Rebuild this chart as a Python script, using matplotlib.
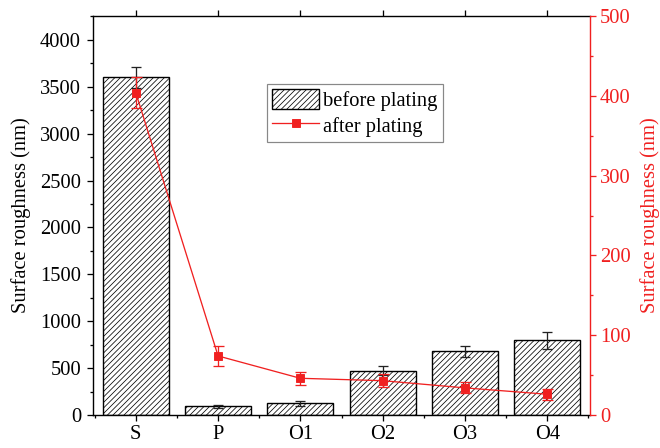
import matplotlib
matplotlib.use("Agg")
import matplotlib.pyplot as plt
from matplotlib.ticker import MultipleLocator, FixedLocator

categories = ["S", "P", "O1", "O2", "O3", "O4"]
before = [3600, 95, 125, 472, 678, 796]
before_err = [108, 16, 25, 46, 58, 88]
after = [404, 74, 46, 43, 34, 26]
after_err = [19, 13, 8, 8, 7, 7]

DPI = 66
px = 72.0 / DPI  # points per pixel

plt.rcParams['font.family'] = ['Liberation Serif', 'DejaVu Serif']
plt.rcParams['hatch.color'] = '#666666'
plt.rcParams['hatch.linewidth'] = 0.75 * px

fig = plt.figure(figsize=(660 / DPI, 448 / DPI), dpi=DPI)
ax = fig.add_axes([93 / 660, 1 - 415 / 448, (590 - 93) / 660, (415 - 16) / 448])
ax2 = ax.twinx()

x = list(range(len(categories)))
fs = 20.5 * px

ax.bar(x, before, width=0.8, color='white', edgecolor='black', linewidth=1.4 * px,
       hatch='////', label='before plating', zorder=2)
ax.errorbar(x, before, yerr=before_err, fmt='none', ecolor='#222222',
            elinewidth=1.3 * px, capsize=5 * px, capthick=1.3 * px, zorder=3)

ax.set_xlim(-0.52, 5.52)
ax.set_ylim(0, 4255)
ax.set_xticks(x)
ax.set_xticklabels(categories, fontsize=fs)
ax.xaxis.set_minor_locator(FixedLocator([i + 0.5 for i in range(-1, 6)]))
ax.yaxis.set_major_locator(MultipleLocator(500))
ax.yaxis.set_minor_locator(MultipleLocator(250))
ax.tick_params(axis='y', which='major', direction='out', length=6 * px, width=1.3 * px,
               labelsize=fs, pad=6 * px)
ax.tick_params(axis='y', which='minor', direction='out', length=3.5 * px, width=1.3 * px)
ax.tick_params(axis='x', which='major', direction='out', length=6 * px, width=1.3 * px,
               labelsize=fs, pad=4 * px, top=True)
ax.tick_params(axis='x', which='minor', direction='out', length=3.5 * px, width=1.3 * px)
ax.set_ylabel('Surface roughness (nm)', fontsize=fs, labelpad=9 * px)
for s in ['left', 'bottom', 'top']:
    ax.spines[s].set_linewidth(1.4 * px)
ax.spines['right'].set_visible(False)

red = '#f02020'
ax2.errorbar(x, after, yerr=after_err, fmt='none', ecolor=red,
             elinewidth=1.3 * px, capsize=5.5 * px, capthick=1.3 * px, zorder=4)
ax2.plot(x, after, color=red, linewidth=1.3 * px, marker='s', markersize=9 * px,
         markeredgecolor=red, markerfacecolor=red, label='after plating', zorder=5)
ax2.set_ylim(0, 500)
ax2.yaxis.set_major_locator(MultipleLocator(100))
ax2.yaxis.set_minor_locator(MultipleLocator(50))
ax2.tick_params(axis='y', which='major', direction='out', length=6 * px, width=1.3 * px,
                labelsize=fs, colors=red, pad=4 * px)
ax2.tick_params(axis='y', which='minor', direction='out', length=3.5 * px, width=1.3 * px,
                colors=red)
ax2.set_ylabel('Surface roughness (nm)', fontsize=fs, color=red, labelpad=9 * px)
ax2.spines['right'].set_color(red)
ax2.spines['right'].set_linewidth(1.4 * px)
for s in ['left', 'bottom', 'top']:
    ax2.spines[s].set_visible(False)

h1, l1 = ax.get_legend_handles_labels()
h2, l2 = ax2.get_legend_handles_labels()
leg = ax2.legend(h1 + h2, l1 + l2, loc='upper left', bbox_to_anchor=(0.35, 0.83),
                 fontsize=fs, frameon=True, fancybox=False, edgecolor='#888888',
                 framealpha=1, handlelength=2.3, handleheight=1.1,
                 borderpad=0.25, labelspacing=0.2, handletextpad=0.2, borderaxespad=0)
leg.get_frame().set_linewidth(1.2 * px)

fig.savefig('out.png', dpi=DPI)
